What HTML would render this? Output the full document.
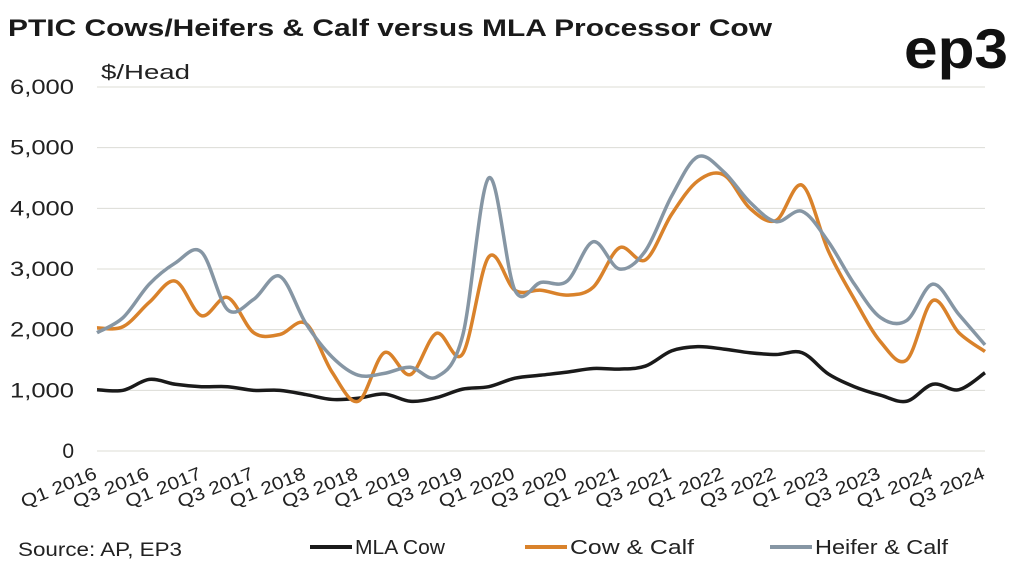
<!DOCTYPE html>
<html><head><meta charset="utf-8"><style>
html,body{margin:0;padding:0;background:#fff;width:1024px;height:568px;overflow:hidden}
svg{display:block;font-family:"Liberation Sans",sans-serif}
</style></head><body>
<svg id="c" width="1024" height="568" viewBox="0 0 1024 568">
<text x="8" y="36" font-size="24" font-weight="bold" fill="#1a1a1a" textLength="764" lengthAdjust="spacingAndGlyphs">PTIC Cows/Heifers &amp; Calf versus MLA Processor Cow</text>
<text x="1008" y="68" font-size="56" font-weight="bold" fill="#111" text-anchor="end" textLength="104" lengthAdjust="spacingAndGlyphs">ep3</text>
<text x="101" y="79" font-size="20" fill="#222" textLength="89" lengthAdjust="spacingAndGlyphs">$/Head</text>
<text x="18" y="556" font-size="19" fill="#222" textLength="164" lengthAdjust="spacingAndGlyphs">Source: AP, EP3</text>
<line x1="310" y1="547" x2="352" y2="547" stroke="#1a1a1a" stroke-width="4"/>
<text x="355" y="554" font-size="20" fill="#222" textLength="90" lengthAdjust="spacingAndGlyphs">MLA Cow</text>
<line x1="525" y1="547" x2="567" y2="547" stroke="#d9822b" stroke-width="4"/>
<text x="570" y="554" font-size="20" fill="#222" textLength="124" lengthAdjust="spacingAndGlyphs">Cow &amp; Calf</text>
<line x1="770" y1="547" x2="812" y2="547" stroke="#8696a4" stroke-width="4"/>
<text x="815" y="554" font-size="20" fill="#222" textLength="133" lengthAdjust="spacingAndGlyphs">Heifer &amp; Calf</text>
<g id="g"></g>
</svg>
<script>
var g=document.getElementById('g'),ns='http://www.w3.org/2000/svg';
function el(t,a,txt){var e=document.createElementNS(ns,t);for(var k in a)e.setAttribute(k,a[k]);if(txt!=null)e.textContent=txt;g.appendChild(e);return e;}
var X0=97,X1=985,Y0=451,Y6=87;
function X(i){return X0+(X1-X0)*i/34}
function Y(v){return Y0-(Y0-Y6)*v/6000}
for(var k=0;k<=6;k++){var y=Y(k*1000);
el('line',{x1:97,x2:985,y1:y,y2:y,stroke:'#dcdcd6','stroke-width':1});
var a={x:74,y:y+7,'font-size':21,fill:'#222','text-anchor':'end'};if(k>0){a.textLength=64;a.lengthAdjust='spacingAndGlyphs';}
el('text',a,k==0?'0':(k+',000'));}
for(var i=0;i<35;i+=2){var q=(i%4==0)?'Q1':'Q3',yr=2016+Math.floor(i/4);
var x=X(i)+1,y=478;
el('text',{x:x,y:y,'font-size':18,fill:'#222','text-anchor':'end',textLength:80,lengthAdjust:'spacingAndGlyphs',transform:'rotate(-22 '+x+' '+y+')'},q+' '+yr);}
var mla=[1010,1000,1180,1100,1060,1060,1000,1000,930,850,870,940,820,880,1020,1060,1200,1250,1300,1360,1350,1400,1650,1720,1680,1620,1590,1620,1270,1060,920,820,1100,1010,1290];
var cow=[2030,2050,2450,2800,2230,2530,1950,1920,2100,1300,820,1620,1260,1940,1600,3200,2650,2650,2570,2700,3350,3150,3900,4450,4550,4000,3800,4380,3300,2500,1800,1500,2480,1950,1640];
var hei=[1950,2200,2750,3100,3280,2330,2500,2880,2100,1550,1250,1280,1380,1220,1900,4500,2650,2780,2800,3450,3000,3300,4200,4850,4600,4100,3780,3950,3450,2750,2200,2150,2750,2250,1750];
function path(d){var p=d.map(function(v,i){return[X(i),Y(v)]});var s='M'+p[0][0]+','+p[0][1];
for(var i=0;i<p.length-1;i++){var a=p[Math.max(i-1,0)],b=p[i],c=p[i+1],e=p[Math.min(i+2,p.length-1)],t=6;
s+=' C'+(b[0]+(c[0]-a[0])/t)+','+(b[1]+(c[1]-a[1])/t)+' '+(c[0]-(e[0]-b[0])/t)+','+(c[1]-(e[1]-b[1])/t)+' '+c[0]+','+c[1];}
return s;}
el('path',{d:path(mla),fill:'none',stroke:'#1a1a1a','stroke-width':3.5});
el('path',{d:path(cow),fill:'none',stroke:'#d9822b','stroke-width':3.5});
el('path',{d:path(hei),fill:'none',stroke:'#8696a4','stroke-width':3.5});
</script>
</body></html>
